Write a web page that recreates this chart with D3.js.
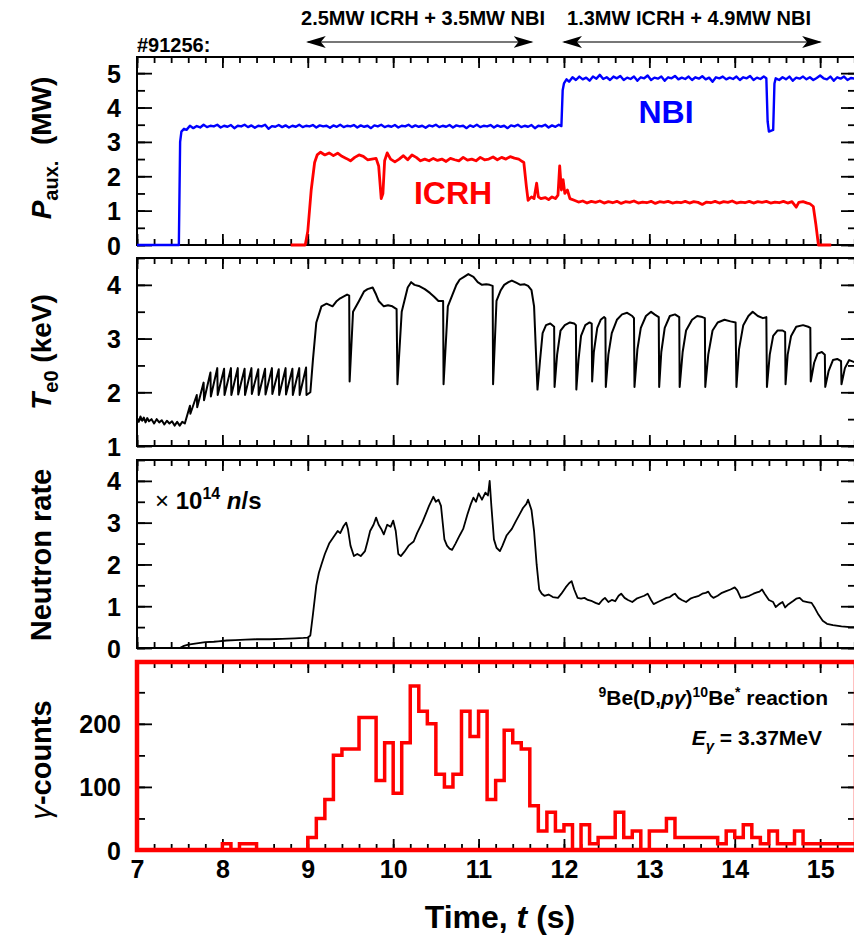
<!DOCTYPE html>
<html>
<head>
<meta charset="utf-8">
<script src="https://cdn.jsdelivr.net/npm/d3@7"></script>
<style>
  body { margin: 0; background: #fff; }
  svg { display: block; }
</style>
</head>
<body>
<svg id="chart" width="854" height="936"></svg>
<script>
// ---- Data ---------------------------------------------------------------

// Auxiliary heating power (MW) versus time (s)
const nbiPower = [
  [7.00,0],[7.49,0],[7.505,3.0],[7.52,3.3],[7.55,3.38],[7.58,3.35],[7.62,3.47],[7.66,3.4],[7.70,3.46],[7.74,3.42],
  [7.78,3.5],[7.82,3.43],[7.86,3.47],[7.90,3.45],[7.94,3.5],[7.98,3.42],[8.02,3.47],[8.06,3.44],[8.10,3.49],[8.14,3.4],
  [8.18,3.47],[8.22,3.45],[8.26,3.5],[8.30,3.43],[8.34,3.48],[8.38,3.41],[8.42,3.47],[8.46,3.45],[8.50,3.5],[8.54,3.38],
  [8.58,3.46],[8.62,3.44],[8.66,3.49],[8.70,3.43],[8.74,3.48],[8.78,3.42],[8.82,3.47],[8.86,3.44],[8.90,3.5],[8.94,3.43],
  [8.98,3.47],[9.02,3.45],[9.06,3.49],[9.10,3.42],[9.14,3.48],[9.18,3.45],[9.22,3.47],[9.26,3.41],[9.30,3.48],[9.34,3.44],
  [9.38,3.5],[9.42,3.43],[9.46,3.47],[9.50,3.45],[9.54,3.49],[9.58,3.42],[9.62,3.48],[9.66,3.44],[9.70,3.47],[9.74,3.4],
  [9.78,3.48],[9.82,3.45],[9.86,3.5],[9.90,3.43],[9.94,3.47],[9.98,3.44],[10.02,3.49],[10.06,3.42],[10.10,3.47],[10.14,3.45],
  [10.18,3.5],[10.22,3.43],[10.26,3.48],[10.30,3.44],[10.34,3.47],[10.38,3.41],[10.42,3.48],[10.46,3.45],[10.50,3.5],[10.54,3.43],
  [10.58,3.47],[10.62,3.44],[10.66,3.49],[10.70,3.42],[10.74,3.48],[10.78,3.45],[10.82,3.47],[10.86,3.4],[10.90,3.48],[10.94,3.44],
  [10.98,3.5],[11.02,3.43],[11.06,3.47],[11.10,3.45],[11.14,3.49],[11.18,3.42],[11.22,3.48],[11.26,3.44],[11.30,3.47],[11.34,3.4],
  [11.38,3.48],[11.42,3.45],[11.46,3.5],[11.50,3.43],[11.54,3.47],[11.58,3.44],[11.62,3.49],[11.66,3.4],[11.70,3.47],[11.74,3.45],
  [11.78,3.5],[11.82,3.42],[11.86,3.48],[11.90,3.44],[11.94,3.5],[11.97,3.46],[11.985,4.5],[12.00,4.7],[12.03,4.82],[12.06,4.75],
  [12.10,4.88],[12.14,4.8],[12.18,4.9],[12.22,4.82],[12.26,4.87],[12.30,4.78],[12.34,4.9],[12.38,4.84],[12.42,4.95],[12.46,4.83],
  [12.50,4.88],[12.54,4.8],[12.58,4.9],[12.62,4.85],[12.66,4.92],[12.70,4.8],[12.74,4.87],[12.78,4.83],[12.82,4.9],[12.86,4.78],
  [12.90,4.88],[12.94,4.85],[12.98,4.93],[13.02,4.8],[13.06,4.87],[13.10,4.84],[13.14,4.9],[13.18,4.78],[13.22,4.88],[13.26,4.85],
  [13.30,4.92],[13.34,4.82],[13.38,4.87],[13.42,4.83],[13.46,4.9],[13.50,4.8],[13.54,4.88],[13.58,4.84],[13.62,4.91],[13.66,4.82],
  [13.70,4.87],[13.74,4.75],[13.78,4.88],[13.82,4.85],[13.86,4.9],[13.90,4.82],[13.94,4.87],[13.98,4.83],[14.02,4.9],[14.06,4.8],
  [14.10,4.88],[14.14,4.85],[14.18,4.92],[14.22,4.8],[14.26,4.87],[14.30,4.83],[14.34,4.9],[14.37,4.85],[14.385,3.6],[14.40,3.3],
  [14.45,3.35],[14.465,4.7],[14.48,4.85],[14.52,4.8],[14.56,4.88],[14.60,4.82],[14.64,4.9],[14.68,4.78],[14.72,4.87],[14.76,4.84],
  [14.80,4.9],[14.84,4.82],[14.88,4.88],[14.92,4.8],[14.96,4.86],[15.00,4.93],[15.04,4.85],[15.08,4.82],[15.12,4.9],[15.16,4.78],
  [15.20,4.88],[15.24,4.84],[15.28,4.9],[15.32,4.8],[15.36,4.86],[15.42,4.83]
];

const icrhPower = [
  [8.80,0],[8.97,0],[9.00,0.4],[9.04,1.6],[9.08,2.4],[9.11,2.62],[9.15,2.7],[9.20,2.62],[9.25,2.68],[9.30,2.6],
  [9.35,2.67],[9.40,2.58],[9.45,2.52],[9.50,2.45],[9.55,2.55],[9.60,2.62],[9.65,2.58],[9.70,2.48],[9.75,2.5],[9.80,2.52],
  [9.83,2.3],[9.86,1.35],[9.88,1.5],[9.90,2.45],[9.93,2.68],[9.97,2.5],[10.02,2.42],[10.07,2.5],[10.12,2.6],[10.17,2.48],
  [10.22,2.62],[10.27,2.55],[10.32,2.45],[10.37,2.5],[10.42,2.45],[10.47,2.52],[10.52,2.46],[10.57,2.5],[10.62,2.43],[10.67,2.52],
  [10.72,2.48],[10.77,2.45],[10.82,2.55],[10.87,2.47],[10.92,2.5],[10.97,2.45],[11.02,2.55],[11.07,2.48],[11.12,2.5],[11.17,2.56],
  [11.22,2.48],[11.27,2.55],[11.32,2.5],[11.37,2.57],[11.42,2.53],[11.47,2.5],[11.50,2.45],[11.53,2.4],[11.56,1.7],[11.58,1.3],
  [11.62,1.4],[11.65,1.35],[11.68,1.8],[11.70,1.4],[11.73,1.35],[11.78,1.38],[11.82,1.32],[11.86,1.4],[11.90,1.35],[11.93,1.45],
  [11.95,2.3],[11.97,1.6],[11.99,1.9],[12.01,1.5],[12.04,1.6],[12.07,1.35],[12.12,1.3],[12.17,1.25],[12.22,1.28],[12.27,1.22],
  [12.32,1.27],[12.37,1.24],[12.42,1.28],[12.47,1.22],[12.52,1.26],[12.57,1.23],[12.62,1.27],[12.67,1.21],[12.72,1.26],[12.77,1.24],
  [12.82,1.28],[12.87,1.22],[12.92,1.25],[12.97,1.23],[13.02,1.27],[13.07,1.21],[13.12,1.26],[13.17,1.24],[13.22,1.27],[13.27,1.22],
  [13.32,1.25],[13.37,1.23],[13.42,1.27],[13.47,1.22],[13.52,1.26],[13.57,1.24],[13.62,1.18],[13.67,1.25],[13.72,1.23],[13.77,1.27],
  [13.82,1.22],[13.87,1.26],[13.92,1.24],[13.97,1.28],[14.02,1.22],[14.07,1.25],[14.12,1.23],[14.17,1.27],[14.22,1.22],[14.27,1.26],
  [14.32,1.24],[14.37,1.27],[14.42,1.22],[14.47,1.25],[14.52,1.23],[14.57,1.27],[14.62,1.22],[14.67,1.26],[14.72,1.1],[14.75,1.24],
  [14.80,1.26],[14.85,1.22],[14.88,1.2],[14.92,1.12],[14.95,0.6],[14.98,0],[15.13,0]
];

// Central electron temperature (keV)
const electronTemp = [
  // ohmic phase
  [7.00,1.52],[7.02,1.45],[7.04,1.55],[7.06,1.47],[7.08,1.53],[7.10,1.44],[7.12,1.52],[7.14,1.46],[7.17,1.5],[7.20,1.42],
  [7.23,1.5],[7.26,1.44],[7.29,1.48],[7.32,1.4],[7.35,1.47],[7.38,1.42],[7.41,1.46],[7.44,1.38],[7.47,1.45],[7.50,1.38],
  [7.53,1.45],[7.56,1.42],
  // NBI-only sawteeth
  [7.62,1.75],[7.625,1.6],[7.70,1.95],[7.705,1.72],[7.78,2.18],[7.785,1.85],[7.86,2.37],[7.865,1.92],[7.94,2.45],[7.945,1.95],
  [8.02,2.44],[8.025,1.95],[8.10,2.45],[8.105,1.95],[8.18,2.45],[8.185,1.96],[8.26,2.44],[8.265,1.95],[8.34,2.45],[8.345,1.97],
  [8.42,2.43],[8.425,1.95],[8.50,2.44],[8.505,1.96],[8.58,2.45],[8.585,1.97],[8.66,2.43],[8.665,1.95],[8.74,2.45],[8.745,1.96],
  [8.82,2.44],[8.825,1.95],[8.90,2.45],[8.905,1.95],[8.98,2.46],[8.985,1.95],
  // ICRH + NBI, long sawteeth
  [9.03,2.0],[9.06,2.6],[9.10,3.3],[9.16,3.6],[9.22,3.65],[9.29,3.6],[9.34,3.7],[9.38,3.75],[9.46,3.82],[9.485,3.8],
  [9.49,2.2],[9.53,3.5],[9.60,3.7],[9.66,3.88],[9.70,3.92],[9.76,3.95],[9.80,3.82],[9.83,3.7],[9.89,3.6],[9.94,3.62],
  [9.99,3.6],[10.04,3.55],[10.05,2.15],[10.10,3.5],[10.17,3.95],[10.21,4.05],[10.25,4.0],[10.30,3.98],[10.37,3.92],[10.43,3.85],
  [10.48,3.78],[10.53,3.7],[10.585,3.7],[10.59,2.15],[10.64,3.6],[10.69,3.8],[10.74,4.0],[10.78,4.1],[10.83,4.15],[10.88,4.2],
  [10.94,4.15],[10.99,4.05],[11.04,4.0],[11.09,4.01],[11.13,4.0],[11.165,3.98],[11.17,2.15],[11.21,3.7],[11.26,3.9],[11.30,4.0],
  [11.35,4.05],[11.39,4.08],[11.44,4.04],[11.49,4.0],[11.54,4.01],[11.58,3.98],[11.62,3.9],[11.65,3.6],[11.69,2.05],
  // reduced ICRH, short sawteeth
  [11.72,2.6],[11.75,3.1],[11.79,3.25],[11.84,3.28],[11.885,3.22],[11.89,2.1],
  [11.92,2.7],[11.96,3.15],[12.01,3.25],[12.07,3.3],[12.12,3.28],[12.14,3.25],[12.145,2.05],
  [12.17,2.6],[12.20,3.05],[12.25,3.25],[12.30,3.3],[12.325,3.28],[12.33,2.2],
  [12.35,2.75],[12.39,3.2],[12.43,3.35],[12.47,3.4],[12.485,3.38],[12.49,2.1],
  [12.52,2.7],[12.56,3.1],[12.62,3.35],[12.68,3.45],[12.74,3.48],[12.80,3.42],[12.82,3.38],[12.826,2.1],
  [12.86,2.8],[12.90,3.2],[12.96,3.42],[13.02,3.5],[13.06,3.45],[13.11,3.4],[13.115,2.1],
  [13.14,2.75],[13.18,3.2],[13.24,3.42],[13.30,3.45],[13.35,3.4],[13.355,2.1],
  [13.39,2.75],[13.43,3.15],[13.50,3.35],[13.56,3.42],[13.62,3.4],[13.65,3.38],[13.655,2.1],
  [13.69,2.7],[13.74,3.15],[13.80,3.3],[13.88,3.35],[13.95,3.32],[14.01,3.3],[14.02,2.1],
  [14.05,2.8],[14.10,3.25],[14.16,3.42],[14.21,3.5],[14.27,3.42],[14.33,3.38],[14.37,3.4],[14.377,2.1],
  [14.41,2.7],[14.45,3.05],[14.50,3.15],[14.56,3.15],[14.59,3.12],[14.595,2.15],
  [14.62,2.7],[14.66,3.05],[14.72,3.22],[14.80,3.25],[14.86,3.22],[14.885,3.2],[14.89,2.2],
  [14.93,2.55],[14.97,2.72],[15.02,2.75],[15.055,2.7],[15.06,2.1],
  [15.10,2.4],[15.15,2.6],[15.20,2.62],[15.245,2.58],[15.25,2.15],
  [15.29,2.45],[15.34,2.6],[15.42,2.55]
];

// Neutron rate (10^14 n/s)
const neutronRate = [
  [7.50,0],[7.55,0.05],[7.60,0.08],[7.70,0.11],[7.80,0.14],[7.90,0.15],[7.95,0.16],[8.05,0.18],[8.15,0.19],[8.27,0.2],
  [8.40,0.21],[8.55,0.21],[8.70,0.22],[8.85,0.23],[8.95,0.24],[9.00,0.25],[9.03,0.3],[9.06,0.8],[9.10,1.5],[9.13,1.8],
  [9.16,2.0],[9.20,2.25],[9.25,2.5],[9.30,2.65],[9.35,2.8],[9.38,2.75],[9.42,2.92],[9.45,3.0],[9.47,2.85],[9.50,2.45],
  [9.54,2.2],[9.58,2.25],[9.62,2.2],[9.67,2.32],[9.70,2.55],[9.73,2.8],[9.77,2.95],[9.80,3.12],[9.83,2.95],[9.86,2.85],
  [9.89,2.72],[9.93,2.95],[9.97,2.9],[10.00,3.05],[10.03,2.8],[10.06,2.25],[10.09,2.2],[10.13,2.3],[10.18,2.45],[10.24,2.55],
  [10.28,2.75],[10.34,3.0],[10.38,3.2],[10.42,3.4],[10.47,3.62],[10.50,3.5],[10.53,3.55],[10.56,3.4],[10.60,2.6],[10.63,2.45],
  [10.66,2.38],[10.69,2.35],[10.73,2.5],[10.78,2.7],[10.82,2.85],[10.87,3.2],[10.91,3.45],[10.94,3.6],[10.97,3.5],[11.00,3.7],
  [11.04,3.55],[11.08,3.72],[11.11,3.65],[11.13,4.0],[11.15,3.4],[11.18,2.6],[11.21,2.4],[11.25,2.32],[11.28,2.45],[11.33,2.7],
  [11.39,2.85],[11.44,3.05],[11.48,3.2],[11.52,3.35],[11.56,3.45],[11.58,3.55],[11.62,3.3],[11.65,2.8],[11.68,2.0],[11.71,1.4],
  [11.74,1.3],[11.77,1.25],[11.82,1.28],[11.87,1.22],[11.93,1.2],[11.97,1.3],[12.02,1.45],[12.06,1.55],[12.09,1.6],[12.12,1.4],
  [12.16,1.2],[12.20,1.18],[12.24,1.2],[12.28,1.15],[12.33,1.12],[12.37,1.08],[12.41,1.05],[12.45,1.15],[12.48,1.2],[12.52,1.1],
  [12.56,1.15],[12.60,1.12],[12.64,1.25],[12.67,1.3],[12.71,1.2],[12.75,1.15],[12.80,1.1],[12.85,1.18],[12.90,1.22],[12.94,1.25],
  [12.98,1.3],[13.02,1.15],[13.05,1.05],[13.10,1.1],[13.15,1.15],[13.20,1.2],[13.24,1.22],[13.28,1.28],[13.30,1.3],[13.34,1.2],
  [13.38,1.15],[13.43,1.1],[13.48,1.18],[13.53,1.22],[13.58,1.25],[13.62,1.3],[13.66,1.32],[13.69,1.35],[13.72,1.25],[13.75,1.2],
  [13.80,1.25],[13.85,1.32],[13.90,1.36],[13.95,1.4],[14.00,1.45],[14.03,1.38],[14.07,1.2],[14.12,1.22],[14.17,1.25],[14.22,1.3],
  [14.26,1.33],[14.29,1.35],[14.32,1.4],[14.35,1.3],[14.40,1.15],[14.45,1.1],[14.48,0.98],[14.52,1.05],[14.56,1.1],[14.59,0.97],
  [14.63,1.05],[14.68,1.12],[14.72,1.18],[14.76,1.2],[14.80,1.12],[14.85,1.1],[14.90,1.08],[14.94,0.95],[14.98,0.8],[15.03,0.65],
  [15.08,0.58],[15.15,0.55],[15.25,0.52],[15.35,0.5],[15.42,0.5]
];

// Gamma counts per 0.1 s bin (bin start time, counts)
const gammaCounts = [
  [7.0,0],[7.1,0],[7.2,0],[7.3,0],[7.4,0],[7.5,0],[7.6,0],[7.7,0],[7.8,0],[7.9,0],
  [8.0,10],[8.1,0],[8.2,10],[8.3,10],[8.4,0],[8.5,0],[8.6,0],[8.7,0],[8.8,0],[8.9,0],
  [9.0,20],[9.1,50],[9.2,80],[9.3,150],[9.4,160],[9.5,160],[9.6,210],[9.7,210],[9.8,110],[9.9,170],
  [10.0,90],[10.1,170],[10.2,260],[10.3,220],[10.4,200],[10.5,120],[10.6,100],[10.7,120],[10.8,220],[10.9,180],
  [11.0,220],[11.1,80],[11.2,110],[11.3,190],[11.4,170],[11.5,160],[11.6,70],[11.7,30],[11.8,60],[11.9,30],
  [12.0,40],[12.1,0],[12.2,40],[12.3,10],[12.4,20],[12.5,20],[12.6,60],[12.7,20],[12.8,30],[12.9,0],
  [13.0,30],[13.1,30],[13.2,50],[13.3,20],[13.4,20],[13.5,20],[13.6,20],[13.7,20],[13.8,10],[13.9,30],
  [14.0,20],[14.1,40],[14.2,20],[14.3,10],[14.4,30],[14.5,10],[14.6,10],[14.7,30],[14.8,10],[14.9,10],
  [15.0,10],[15.1,10],[15.2,10],[15.3,10],[15.4,10],[15.5,10]
];

// Axis ticks
const timeTicks = [7, 8, 9, 10, 11, 12, 13, 14, 15];
const powerTicks = [0, 1, 2, 3, 4, 5];
const tempTicks = [1, 2, 3, 4];
const neutronTicks = [0, 1, 2, 3, 4];
const gammaTicks = [0, 100, 200];

// ---- Layout -------------------------------------------------------------

const svg = d3.select("#chart");
const left = 137, right = 856, panelH = 188;
const tops = [57, 258, 460, 662];
const numFont = "'Liberation Sans', Arial, sans-serif";
const narrowFont = "'Liberation Sans Narrow', 'Arial Narrow', 'Liberation Sans', sans-serif";

const x = d3.scaleLinear().domain([7, 15.42]).range([left, right]);
const minorTime = d3.range(7, 15.5, 0.2).map(v => +v.toFixed(2));

function panel(i, domain, major, minorStep, opts) {
  const top = tops[i], bottom = top + panelH;
  const y = d3.scaleLinear().domain(domain).range([bottom, top]);
  const g = svg.append("g");
  const minorY = d3.range(domain[0], domain[1] + 1e-9, minorStep).map(v => +v.toFixed(3));

  const tickStroke = (sel) => {
    sel.select(".domain").remove();
    sel.selectAll("line").attr("stroke", "#000").attr("stroke-width", 1.8);
    sel.selectAll("text").remove();
  };
  // x ticks on top and bottom, pointing inward
  g.append("g").attr("transform", `translate(0,${top})`)
    .call(d3.axisTop(x).tickValues(minorTime).tickSize(-6)).call(tickStroke);
  g.append("g").attr("transform", `translate(0,${top})`)
    .call(d3.axisTop(x).tickValues(timeTicks).tickSize(-11)).call(tickStroke);
  g.append("g").attr("transform", `translate(0,${bottom})`)
    .call(d3.axisBottom(x).tickValues(minorTime).tickSize(-6)).call(tickStroke);
  g.append("g").attr("transform", `translate(0,${bottom})`)
    .call(d3.axisBottom(x).tickValues(timeTicks).tickSize(-11)).call(tickStroke);
  // y ticks on left and right, pointing inward
  g.append("g").attr("transform", `translate(${left},0)`)
    .call(d3.axisLeft(y).tickValues(minorY).tickSize(-8)).call(tickStroke);
  g.append("g").attr("transform", `translate(${right},0)`)
    .call(d3.axisRight(y).tickValues(minorY).tickSize(-8)).call(tickStroke);
  g.append("g").attr("transform", `translate(${right},0)`)
    .call(d3.axisRight(y).tickValues(major).tickSize(-15)).call(tickStroke);

  const yAx = g.append("g").attr("transform", `translate(${left},0)`)
    .call(d3.axisLeft(y).tickValues(major).tickSize(-15).tickPadding(16).tickFormat(d3.format("d")));
  yAx.select(".domain").remove();
  yAx.selectAll("line").attr("stroke", "#000").attr("stroke-width", 1.8);
  yAx.selectAll("text").attr("font-family", numFont).attr("font-weight", "bold")
    .attr("font-size", 25).attr("fill", "#000").attr("dy", "0.36em");

  // frame
  const fc = opts.frameColor || "#000", fw = opts.frameWidth || 2;
  g.append("rect").attr("x", left).attr("y", top)
    .attr("width", right - left).attr("height", panelH)
    .attr("fill", "none").attr("stroke", fc).attr("stroke-width", fw);

  // rotated axis title
  const t = svg.append("text").attr("transform", `translate(${opts.titleX},${opts.titleY}) rotate(-90)`)
    .attr("text-anchor", "middle").attr("font-family", numFont).attr("font-weight", "bold")
    .attr("font-size", opts.titleSize || 28).attr("fill", "#000");
  opts.title(t);

  return { y, g, top, bottom };
}

// ---- Panel 1: auxiliary power ---------------------------------------
const p1 = panel(0, [0, 5.47], powerTicks, 0.5, {
  titleX: 51, titleY: 148,
  title: t => {
    t.append("tspan").attr("font-style", "italic").text("P");
    t.append("tspan").attr("font-size", 20).attr("dy", 7).text("aux.");
    t.append("tspan").attr("dy", -7).text("\u00a0\u00a0(MW)");
  }
});
const line1 = d3.line().x(d => x(d[0])).y(d => p1.y(d[1]));
svg.append("path").datum(nbiPower).attr("d", line1)
  .attr("fill", "none").attr("stroke", "#0000ff").attr("stroke-width", 2.4).attr("stroke-linejoin", "round");
svg.append("path").datum(icrhPower).attr("d", line1)
  .attr("fill", "none").attr("stroke", "#ff0000").attr("stroke-width", 2.8).attr("stroke-linejoin", "round");
svg.append("text").attr("x", 666).attr("y", 123).attr("text-anchor", "middle")
  .attr("font-family", numFont).attr("font-weight", "bold").attr("font-size", 32)
  .attr("fill", "#0000ff").text("NBI");
svg.append("text").attr("x", 453).attr("y", 204).attr("text-anchor", "middle")
  .attr("font-family", numFont).attr("font-weight", "bold").attr("font-size", 32)
  .attr("fill", "#ff0000").text("ICRH");

// ---- Panel 2: electron temperature ----------------------------------
const p2 = panel(1, [1, 4.5], tempTicks, 0.5, {
  titleX: 51, titleY: 352,
  title: t => {
    t.append("tspan").attr("font-style", "italic").text("T");
    t.append("tspan").attr("font-size", 20).attr("dy", 7).text("e0");
    t.append("tspan").attr("dy", -7).text(" (keV)");
  }
});
svg.append("path").datum(electronTemp)
  .attr("d", d3.line().x(d => x(d[0])).y(d => p2.y(d[1])))
  .attr("fill", "none").attr("stroke", "#000").attr("stroke-width", 2).attr("stroke-linejoin", "round");

// ---- Panel 3: neutron rate ------------------------------------------
const p3 = panel(2, [0, 4.5], neutronTicks, 0.5, {
  titleX: 51, titleY: 555, titleSize: 29,
  title: t => t.text("Neutron rate")
});
svg.append("path").datum(neutronRate)
  .attr("d", d3.line().x(d => x(d[0])).y(d => p3.y(d[1])))
  .attr("fill", "none").attr("stroke", "#000").attr("stroke-width", 1.8).attr("stroke-linejoin", "round");
const unit = svg.append("text").attr("x", 155).attr("y", 509)
  .attr("font-family", numFont).attr("font-size", 24).attr("fill", "#000");
unit.append("tspan").text("\u00d7");
unit.append("tspan").attr("font-weight", "bold").text(" 10");
unit.append("tspan").attr("font-weight", "bold").attr("font-size", 16).attr("dy", -10).text("14");
unit.append("tspan").attr("dy", 10).text(" ");
unit.append("tspan").attr("font-weight", "bold").attr("font-style", "italic").text("n");
unit.append("tspan").attr("font-weight", "bold").text("/s");

// ---- Panel 4: gamma counts ------------------------------------------
const p4 = panel(3, [0, 298], gammaTicks, 50, {
  frameColor: "#ff0000", frameWidth: 4.5,
  titleX: 51, titleY: 760, titleSize: 29,
  title: t => {
    t.append("tspan").attr("font-style", "italic").attr("font-weight", "normal").text("\u03b3");
    t.append("tspan").text("-counts");
  }
});
svg.append("path").datum(gammaCounts)
  .attr("d", d3.line().curve(d3.curveStepAfter).x(d => x(d[0])).y(d => p4.y(d[1])))
  .attr("fill", "none").attr("stroke", "#ff0000").attr("stroke-width", 3.5);

// x tick labels under the bottom panel
const xAx = svg.append("g").attr("transform", `translate(0,${p4.bottom})`)
  .call(d3.axisBottom(x).tickValues(timeTicks).tickSize(0).tickPadding(10));
xAx.select(".domain").remove();
xAx.selectAll("text").attr("font-family", numFont).attr("font-weight", "bold")
  .attr("font-size", 25).attr("fill", "#000");

const xt = svg.append("text").attr("x", 500).attr("y", 928).attr("text-anchor", "middle")
  .attr("font-family", numFont).attr("font-weight", "bold").attr("font-size", 32).attr("fill", "#000");
xt.append("tspan").text("Time, ");
xt.append("tspan").attr("font-style", "italic").text("t");
xt.append("tspan").text(" (s)");

// Reaction annotation
const r1 = svg.append("text").attr("x", 828).attr("y", 705).attr("text-anchor", "end")
  .attr("font-family", narrowFont).attr("font-weight", "bold").attr("font-size", 21).attr("fill", "#000");
r1.append("tspan").attr("font-size", 14).attr("dy", -8).text("9");
r1.append("tspan").attr("dy", 8).text("Be(D,");
r1.append("tspan").attr("font-style", "italic").text("p\u03b3");
r1.append("tspan").text(")");
r1.append("tspan").attr("font-size", 14).attr("dy", -8).text("10");
r1.append("tspan").attr("dy", 8).text("Be");
r1.append("tspan").attr("font-size", 14).attr("dy", -8).text("*");
r1.append("tspan").attr("dy", 8).text(" reaction");

const r2 = svg.append("text").attr("x", 822).attr("y", 745).attr("text-anchor", "end")
  .attr("font-family", narrowFont).attr("font-weight", "bold").attr("font-size", 21).attr("fill", "#000");
r2.append("tspan").attr("font-style", "italic").text("E");
r2.append("tspan").attr("font-style", "italic").attr("font-size", 15).attr("dy", 6).text("\u03b3");
r2.append("tspan").attr("dy", -6).text(" = 3.37MeV");

// ---- Header: shot number and heating phases ---------------------------
svg.append("text").attr("x", 137).attr("y", 52)
  .attr("font-family", narrowFont).attr("font-weight", "bold").attr("font-size", 20)
  .attr("fill", "#000").text("#91256:");

const phases = [
  { label: "2.5MW ICRH + 3.5MW NBI", t0: 9.0, t1: 11.62, cx: 423 },
  { label: "1.3MW ICRH + 4.9MW NBI", t0: 12.0, t1: 15.0, cx: 689 }
];
const defs = svg.append("defs");
defs.append("marker").attr("id", "head").attr("viewBox", "0 0 20 12")
  .attr("refX", 18).attr("refY", 6).attr("markerWidth", 20).attr("markerHeight", 12)
  .attr("markerUnits", "userSpaceOnUse").attr("orient", "auto-start-reverse")
  .append("path").attr("d", "M0,0 L20,6 L0,12 L5,6 Z").attr("fill", "#000");
phases.forEach(p => {
  svg.append("line").attr("x1", x(p.t0)).attr("x2", x(p.t1)).attr("y1", 42).attr("y2", 42)
    .attr("stroke", "#777").attr("stroke-width", 2)
    .attr("marker-start", "url(#head)").attr("marker-end", "url(#head)");
  svg.append("text").attr("x", p.cx).attr("y", 25).attr("text-anchor", "middle")
    .attr("font-family", narrowFont).attr("font-weight", "bold").attr("font-size", 20)
    .attr("fill", "#000").text(p.label);
});
</script>
</body>
</html>
